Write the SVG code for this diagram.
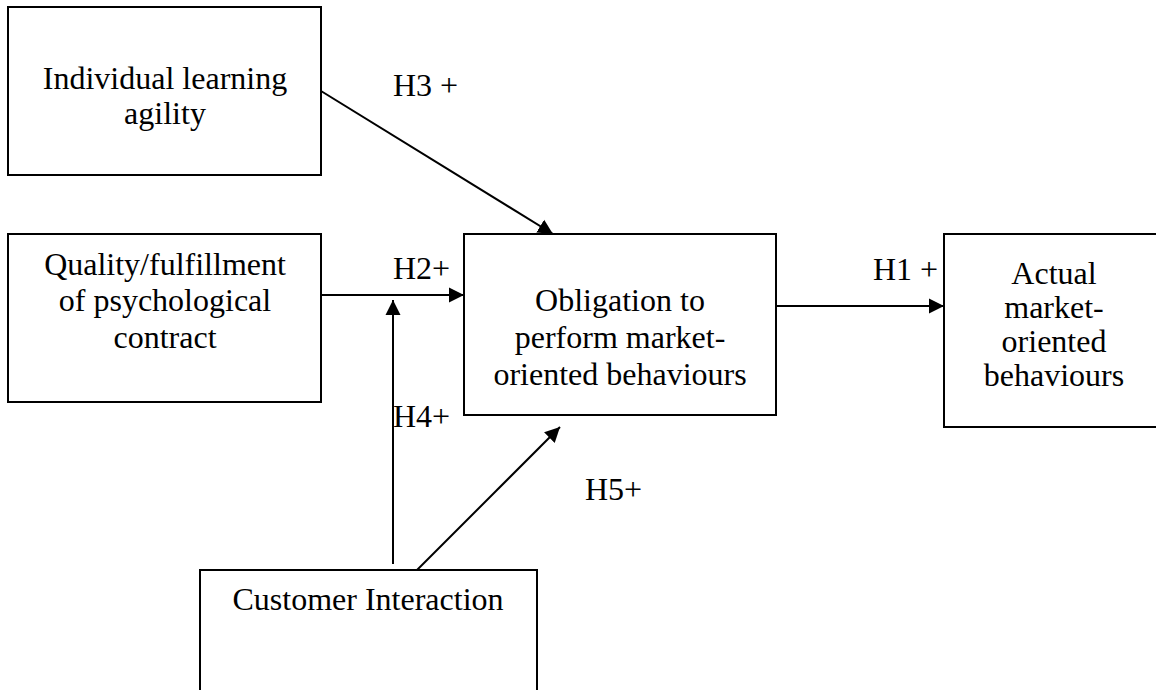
<svg xmlns="http://www.w3.org/2000/svg" width="1156" height="690" viewBox="0 0 1156 690">
  <style>
    .box { fill: #ffffff; stroke: #000000; stroke-width: 2; }
    .lbl { font-family: "Liberation Serif", "Times New Roman", serif; font-size: 32px; fill: #000000; }
    .mid { text-anchor: middle; }
    .edge { fill: none; stroke: #000000; stroke-width: 2; marker-end: url(#arrow); }
  </style>
  <defs>
    <marker id="arrow" markerUnits="userSpaceOnUse" markerWidth="16" markerHeight="16" viewBox="0 0 16 16" refX="15" refY="8" orient="auto">
      <path d="M0,0.5 L15,8 L0,15.5 Z" fill="#000000"/>
    </marker>
  </defs>
  <rect width="1156" height="690" fill="#ffffff"/>

  <g id="node-learning-agility">
    <rect class="box" x="8" y="7" width="313" height="168"/>
    <text class="lbl mid" x="165" y="89">Individual learning</text>
    <text class="lbl mid" x="165" y="124">agility</text>
  </g>

  <g id="node-psychological-contract">
    <rect class="box" x="8" y="234" width="313" height="168"/>
    <text class="lbl mid" x="165" y="275">Quality/fulfillment</text>
    <text class="lbl mid" x="165" y="311">of psychological</text>
    <text class="lbl mid" x="165" y="348">contract</text>
  </g>

  <g id="node-obligation">
    <rect class="box" x="464" y="234" width="312" height="181"/>
    <text class="lbl mid" x="620" y="311">Obligation to</text>
    <text class="lbl mid" x="620" y="348">perform market-</text>
    <text class="lbl mid" x="620" y="385">oriented behaviours</text>
  </g>

  <g id="node-actual-behaviours">
    <rect class="box" x="944" y="234" width="221" height="193"/>
    <text class="lbl mid" x="1054" y="284">Actual</text>
    <text class="lbl mid" x="1054" y="318">market-</text>
    <text class="lbl mid" x="1054" y="352">oriented</text>
    <text class="lbl mid" x="1054" y="386">behaviours</text>
  </g>

  <g id="node-customer-interaction">
    <rect class="box" x="200" y="570" width="337" height="140"/>
    <text class="lbl mid" x="368" y="610">Customer Interaction</text>
  </g>

  <g id="connectors">
    <line class="edge" x1="321" y1="91" x2="553" y2="234"/>
    <line class="edge" x1="321" y1="295" x2="464" y2="295"/>
    <line class="edge" x1="776" y1="306" x2="944" y2="306"/>
    <line class="edge" x1="393" y1="564" x2="393" y2="300"/>
    <line class="edge" x1="417" y1="570" x2="560" y2="427"/>
    <text class="lbl" x="393" y="96">H3 +</text>
    <text class="lbl" x="393" y="279">H2+</text>
    <text class="lbl" x="873" y="280">H1 +</text>
    <text class="lbl" x="393" y="427">H4+</text>
    <text class="lbl" x="585" y="500">H5+</text>
  </g>
</svg>
